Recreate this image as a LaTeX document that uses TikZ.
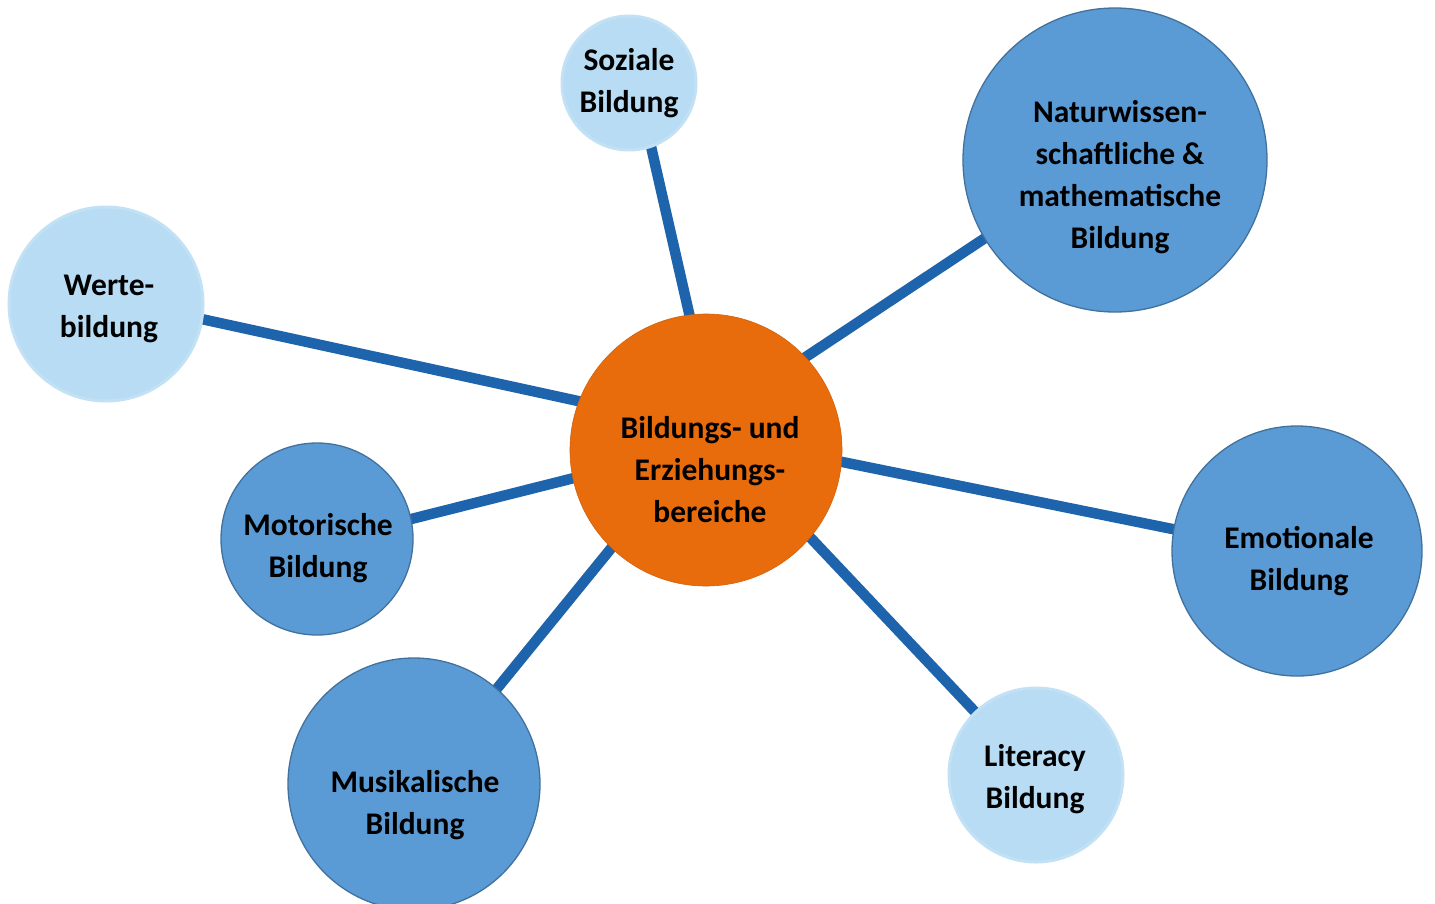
\documentclass[tikz,border=0pt]{standalone}
\usepackage{fontspec}
\setmainfont{Carlito}
\usetikzlibrary{backgrounds}
\definecolor{lightblue}{RGB}{183,220,243}
\definecolor{midblue}{RGB}{91,155,213}
\definecolor{midborder}{RGB}{65,113,156}
\definecolor{centerorange}{RGB}{233,108,12}
\definecolor{linkblue}{RGB}{30,100,172}
\newcommand{\lstr}{\strut}
\begin{document}
\begin{tikzpicture}[x=1pt,y=-1pt,
  light/.style={circle,fill=lightblue,draw=lightblue!85!white,line width=3pt,inner sep=0pt},
  mid/.style={circle,fill=midblue,draw=midborder,line width=1.3pt,inner sep=0pt},
  hub/.style={circle,fill=centerorange,draw=centerorange!90!black,line width=0.6pt,inner sep=0pt},
  lbl/.style={align=center,inner sep=0pt,font=\fontsize{31.5}{42}\selectfont\bfseries,text=black},
  link/.style={line width=10.5pt,draw=linkblue,shorten <=-14pt,shorten >=-14pt}]
\useasboundingbox (0,0) rectangle (1435,903);
% circles
\node[hub,minimum size=272pt] (hub) at (706,450) {};
\node[light,minimum size=134pt] (soz) at (629,83) {};
\node[mid,minimum size=304pt] (nat) at (1115,160) {};
\node[light,minimum size=194pt] (wer) at (106,304) {};
\node[mid,minimum size=192pt] (mot) at (317,539) {};
\node[mid,minimum size=252pt] (mus) at (414,784) {};
\node[mid,minimum size=250pt] (emo) at (1297,551) {};
\node[light,minimum size=174pt] (lit) at (1036,775) {};
% connectors
\begin{scope}[on background layer]
\fill[white] (0,0) rectangle (1435,903);
\draw[link] (hub.97.6) -- (soz.-71);
\draw[link] (hub.43.2) -- (nat.211.6);
\draw[link] (hub.159.1) -- (wer.-9.4);
\draw[link] (hub.192) -- (mot.12.3);
\draw[link] (hub.226.8) -- (mus.49.2);
\draw[link] (hub.-5.5) -- (emo.170.2);
\draw[link] (hub.-40.9) -- (lit.134);
\end{scope}
% labels
\node[lbl] (thub) at (710,472) {\lstr Bildungs- und\\\lstr Erziehungs-\\\lstr bereiche};
\node[lbl] (tsoz) at (629,83) {\lstr Soziale\\\lstr Bildung};
\node[lbl] (tnat) at (1120,177) {\lstr Naturwissen-\\\lstr schaftliche \&\\\lstr mathematische\\\lstr Bildung};
\node[lbl] (twer) at (109,308) {\lstr Werte-\\\lstr bildung};
\node[lbl] (tmot) at (318,548) {\lstr Motorische\\\lstr Bildung};
\node[lbl] (tmus) at (415,805) {\lstr Musikalische\\\lstr Bildung};
\node[lbl] (temo) at (1299,561) {\lstr Emotionale\\\lstr Bildung};
\node[lbl] (tlit) at (1035,779) {\lstr Literacy\\\lstr Bildung};
\end{tikzpicture}
\end{document}
